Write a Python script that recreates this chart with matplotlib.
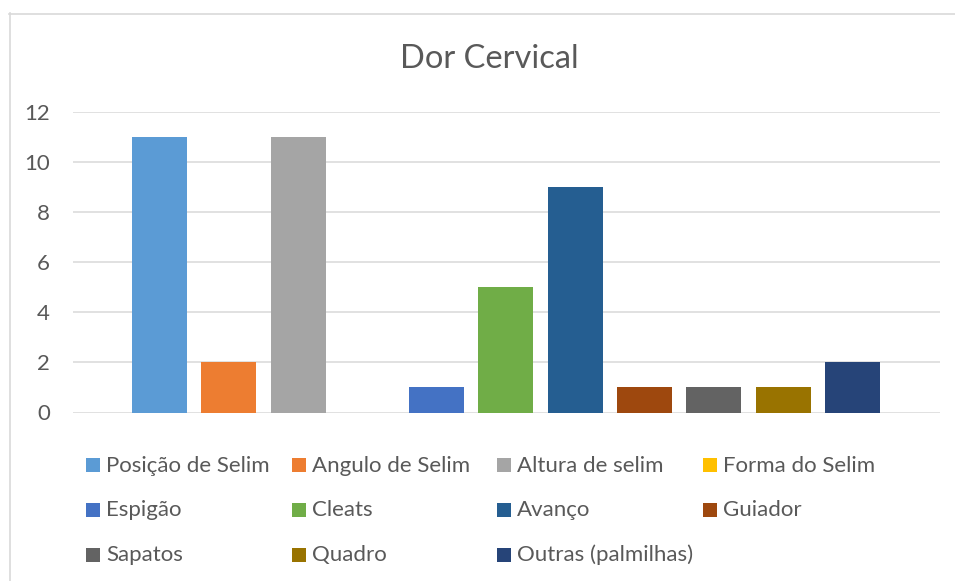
import matplotlib
matplotlib.use("Agg")
import matplotlib.pyplot as plt
from matplotlib.patches import Rectangle
from matplotlib.lines import Line2D

# ---- data ----
title = "Dor Cervical"
series_names = ["Posição de Selim", "Angulo de Selim", "Altura de selim", "Forma do Selim",
                "Espigão", "Cleats", "Avanço", "Guiador",
                "Sapatos", "Quadro", "Outras (palmilhas)"]
values = [11, 2, 11, 0, 1, 5, 9, 1, 1, 1, 2]
colors = ["#5B9BD5", "#ED7D31", "#A5A5A5", "#FFC000",
          "#4472C4", "#70AD47", "#255E91", "#9E480E",
          "#636363", "#997300", "#264478"]
y_ticks = [0, 2, 4, 6, 8, 10, 12]

# ---- layout ----
W, H = 955, 581
TXT = "#595959"
GRID = "#D9D9D9"
FONT = ["Lato", "DejaVu Sans"]
plt.rcParams['font.family'] = FONT

fig = plt.figure(figsize=(W / 100, H / 100), dpi=100)
fig.patch.set_facecolor("white")

def fx(x):
    return x / W

def fy(y):
    return 1 - y / H

# chart border (left and top visible)
fig.add_artist(Line2D([fx(9.5), fx(9.5)], [fy(13), fy(H + 5)], color=GRID, lw=1.2,
                      transform=fig.transFigure))
fig.add_artist(Line2D([fx(9), fx(W + 5)], [fy(13.5), fy(13.5)], color=GRID, lw=1.2,
                      transform=fig.transFigure))

left, right, top, bottom = 73, 940, 112, 412.5
ax = fig.add_axes([fx(left), fy(bottom), fx(right - left), (bottom - top) / H])
xs = list(range(len(values)))
ax.bar(xs, values, width=0.794, color=colors, zorder=3)
ax.set_xlim(-1.248, 11.263)
ax.set_ylim(0, 12)
ax.set_yticks(y_ticks)
ax.set_yticklabels([str(t) for t in y_ticks])
ax.set_xticks([])
ax.tick_params(axis='y', length=0, pad=16.5, labelsize=16, labelcolor=TXT)
for s in ax.spines.values():
    s.set_visible(False)
ax.grid(axis='y', color=GRID, lw=1.1, zorder=0)
ax.set_axisbelow(True)

# title
fig.text(fx(489.5), fy(67.5), title, ha='center', va='baseline', fontsize=23.5, color=TXT)

# legend (manual, Excel style)
col_x = [86, 292, 497, 703]
row_base = [471.5, 516, 561]
for i, (name, c) in enumerate(zip(series_names, colors)):
    r, k = divmod(i, 4)
    mx = col_x[k]
    by = row_base[r]
    fig.add_artist(Rectangle((fx(mx), fy(by - 13.5 + 14)), 14 / W, 14 / H,
                             facecolor=c, edgecolor='none', transform=fig.transFigure))
    fig.text(fx(mx + 20), fy(by), name, ha='left', va='baseline', fontsize=16, color=TXT)

fig.savefig("out.png", dpi=100, facecolor="white")
